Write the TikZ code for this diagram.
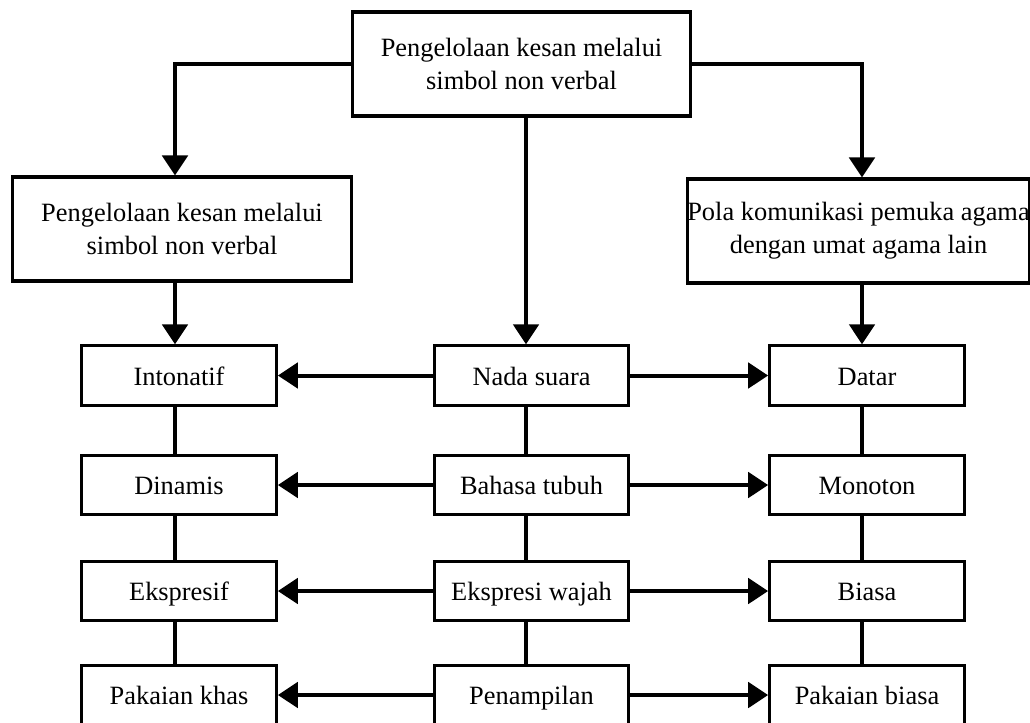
\documentclass[tikz,border=0pt]{standalone}
\usepackage{fontspec}
\setmainfont{Liberation Serif}
\usetikzlibrary{arrows.meta}

\tikzset{
  box/.style={draw, line width=2.3pt, inner sep=0pt, align=center,
              font=\fontsize{19.8}{24.5}\selectfont},
  bigbox/.style={box, minimum width=254pt, minimum height=78pt},
  smallbox/.style={box, minimum width=146pt, minimum height=44.5pt,
                   text height=15.5pt, text depth=1pt},
  link/.style={line width=3pt},
  arr/.style={link, -{Triangle[length=15pt,width=19pt]}},
}

\begin{document}
\begin{tikzpicture}[x=0.75pt, y=-0.75pt]
  \useasboundingbox (0,0) rectangle (1030,722);
  \clip (0,0) rectangle (1030,722);

  % trunk lines of the three columns
  \coordinate (cl) at (175,0);
  \coordinate (cm) at (526,0);
  \coordinate (cr) at (862,0);

  % upper level
  \node[bigbox] (top)   at (521.5,64)  {Pengelolaan kesan melalui\\simbol non verbal};
  \node[bigbox] (left)  at (182,229)   {Pengelolaan kesan melalui\\simbol non verbal};
  \node[bigbox] (right) at (858.5,231) {Pola komunikasi pemuka agama\\dengan umat agama lain};

  % left column
  \node[smallbox] (l1) at (179,375.5) {Intonatif};
  \node[smallbox] (l2) at (179,485)   {Dinamis};
  \node[smallbox] (l3) at (179,591)   {Ekspresif};
  \node[smallbox] (l4) at (179,695)   {Pakaian khas};

  % middle column
  \node[smallbox] (m1) at (531.5,375.5) {Nada suara};
  \node[smallbox] (m2) at (531.5,485)   {Bahasa tubuh};
  \node[smallbox] (m3) at (531.5,591)   {Ekspresi wajah};
  \node[smallbox] (m4) at (531.5,695)   {Penampilan};

  % right column
  \node[smallbox] (r1) at (867,375.5) {Datar};
  \node[smallbox] (r2) at (867,485)   {Monoton};
  \node[smallbox] (r3) at (867,591)   {Biasa};
  \node[smallbox] (r4) at (867,695)   {Pakaian biasa};

  % branches from the top box
  \draw[arr] (top.west) -| (left.north -| cl);
  \draw[arr] (top.east) -| (right.north -| cr);
  \draw[arr] (top.south -| cm) -- (m1.north -| cm);
  \draw[arr] (left.south -| cl) -- (l1.north -| cl);
  \draw[arr] (right.south -| cr) -- (r1.north -| cr);

  % vertical links inside the columns
  \foreach \a/\b in {1/2, 2/3, 3/4} {
    \draw[link] (l\a.south -| cl) -- (l\b.north -| cl);
    \draw[link] (m\a.south -| cm) -- (m\b.north -| cm);
    \draw[link] (r\a.south -| cr) -- (r\b.north -| cr);
  }

  % horizontal arrows from the middle column
  \foreach \i in {1,2,3,4} {
    \draw[arr] (m\i.west) -- (l\i.east);
    \draw[arr] (m\i.east) -- (r\i.west);
  }
\end{tikzpicture}
\end{document}
